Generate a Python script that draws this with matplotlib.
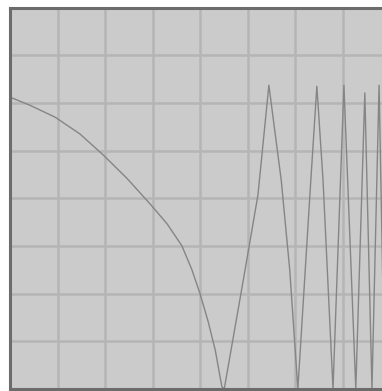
import matplotlib
matplotlib.use('Agg')
import matplotlib.pyplot as plt

# Traced curve vertices, in grid units (one grid cell = 1)
curve_x = [0.00, 0.42, 0.95, 1.47, 1.96, 2.46, 2.95, 3.31, 3.62, 3.83, 4.00,
           4.17, 4.32, 4.46, 4.51, 4.93, 5.22, 5.45, 5.71, 5.89, 6.06, 6.32,
           6.46, 6.59, 6.80, 7.03, 7.28, 7.47, 7.62, 7.77, 7.89]
curve_y = [6.12, 5.95, 5.70, 5.35, 4.91, 4.42, 3.88, 3.46, 3.00, 2.50, 2.00,
           1.42, 0.82, 0.05, 0.00, 2.39, 4.07, 6.37, 4.38, 2.49, 0.00, 4.17,
           6.35, 4.38, 0.00, 6.37, 0.00, 6.21, 0.00, 6.37, 0.00]

grid_ticks = [0, 1, 2, 3, 4, 5, 6, 7, 8]

W, H = 382, 391
fig = plt.figure(figsize=(W / 100, H / 100), dpi=100)
ax = fig.add_axes([10 / W, 2 / H, 380 / W, 381.5 / H])
ax.set_facecolor('#cbcbcb')

ax.plot(curve_x, curve_y, color='#858585', lw=1.0)

ax.set_xlim(0, 8)
ax.set_ylim(0, 8)
ax.set_xticks(grid_ticks)
ax.set_yticks(grid_ticks)
ax.tick_params(length=0, labelbottom=False, labelleft=False)
ax.grid(True, color='#b5b5b5', lw=1.8)
ax.set_axisbelow(True)

for side in ['left', 'top', 'bottom', 'right']:
    ax.spines[side].set_color('#6c6c6c')
    ax.spines[side].set_linewidth(2.2)

plt.savefig('out.png', dpi=100)
